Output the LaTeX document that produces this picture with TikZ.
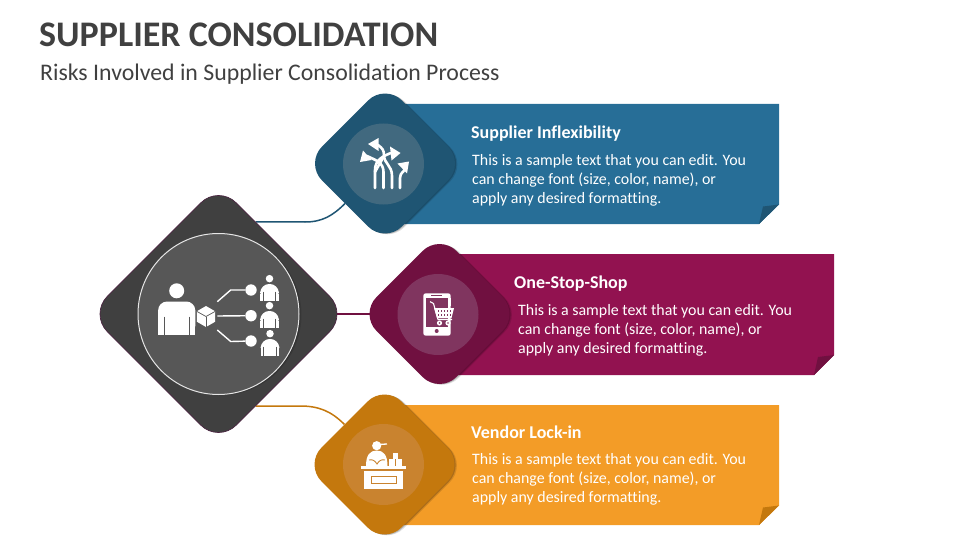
\documentclass[tikz,border=0pt]{standalone}
\usepackage{fontspec}
\setmainfont[Ligatures=NoCommon]{Carlito}
\usetikzlibrary{positioning, shapes.geometric, backgrounds, shadows}
\definecolor{seablue}{HTML}{276E97}
\definecolor{deepblue}{HTML}{1F5573}
\definecolor{hazeblue}{HTML}{41697F}
\definecolor{wine}{HTML}{921250}
\definecolor{plum}{HTML}{701040}
\definecolor{hazeplum}{HTML}{80355F}
\definecolor{amber}{HTML}{F39C27}
\definecolor{ochre}{HTML}{C4780D}
\definecolor{hazeochre}{HTML}{C9832F}
\definecolor{coal}{HTML}{404040}
\definecolor{ash}{HTML}{575757}
\definecolor{hubedge}{HTML}{4A2440}

\tikzset{
  soft shadow/.style={
    general shadow={shadow xshift=1.2pt, shadow yshift=-0.4pt, opacity=.2, fill=black},
    general shadow={shadow xshift=2.4pt, shadow yshift=-0.8pt, opacity=.12, fill=black}
  },
  small diamond/.style={
    diamond,
    aspect=1,
    inner sep=0pt,
    minimum width=160pt,
    minimum height=160pt,
    rounded corners=24pt,
    soft shadow
  },
  icon ring/.style={
    circle,
    inner sep=0pt,
    minimum size=81pt
  },
  link line/.style={
    line width=1.5pt
  },
  heading/.style={
    anchor=west,
    inner sep=0pt,
    text=white,
    font=\fontsize{18}{20}\selectfont\bfseries
  },
  sample/.style={
    anchor=west,
    align=left,
    inner sep=0pt,
    text=white,
    font=\fontsize{15.9}{19}\selectfont
  },
  branch/.style={
    draw=white,
    line width=1.4pt
  },
  dot/.style={
    circle,
    fill=white,
    inner sep=0pt,
    minimum size=11.4pt
  },
  stem/.style={
    draw=white,
    line width=2.6pt,
    line cap=round
  },
  pics/person/.style={
    code={
      \fill[white] (0,-10.7) circle (7.5);
      \fill[white, rounded corners=9pt] (-18.6,33) -- (-18.6,0) -- (18.6,0) -- (18.6,33) -- cycle;
      \fill[white] (-18.6,20) rectangle (18.6,33);
      \draw[ash, line width=.8pt] (-12.5,15) -- (-12.5,33);
      \draw[ash, line width=.8pt] (12.5,15) -- (12.5,33);
    }
  }
}

\begin{document}
\begin{tikzpicture}[x=1pt, y=-1pt]
\useasboundingbox (0,0) rectangle (960,540);

\node(title)[anchor=base west, inner sep=0pt, text=coal, font=\fontsize{36}{40}\selectfont\bfseries] at (39,47) {SUPPLIER CONSOLIDATION};
\node(subtitle)[anchor=base west, inner sep=0pt, text=coal, font=\fontsize{23.8}{26}\selectfont] at (40,80.5) {Risks Involved in Supplier Consolidation Process};

% banners
\fill[seablue] (385,104) -- (779,104) -- (779,204.5) -- (759,224) -- (385,224) -- cycle;
\fill[wine] (440,254) -- (834,254) -- (834,355) -- (814,375) -- (440,375) -- cycle;
\fill[amber] (385,405) -- (779,405) -- (779,505.5) -- (759,525) -- (385,525) -- cycle;

\fill[deepblue] (759,224) -- (763,206.5) -- (779,204.5) -- cycle;
\fill[plum] (814,375) -- (818,357) -- (834,355) -- cycle;
\fill[ochre] (759,525) -- (763,507.5) -- (779,505.5) -- cycle;

% diamonds
\node(hub)[diamond, aspect=1, inner sep=0pt, minimum width=258pt, minimum height=258pt, rounded corners=25pt, fill=coal, draw=hubedge, line width=.7pt] at (218.5,314) {};
\node(dia1)[small diamond, fill=deepblue] at (385,163.5) {};
\node(dia2)[small diamond, fill=plum] at (439.5,314) {};
\node(dia3)[small diamond, fill=ochre] at (384.5,464.5) {};

\node(hubring)[circle, inner sep=0pt, minimum size=161pt, fill=ash, draw=white!85!ash, line width=1pt, soft shadow] at (218.5,314) {};
\node(ring1)[icon ring, fill=hazeblue] at (383.5,164) {};
\node(ring2)[icon ring, fill=hazeplum] at (438,314.5) {};
\node(ring3)[icon ring, fill=hazeochre] at (383.5,464.5) {};

% links
\coordinate (bend1) at (305,222);
\coordinate (bend3) at (300,406);
\begin{scope}[on background layer]
\draw[link line, draw=deepblue] (hub.68) -- (bend1) to[out=0, in=225] (dia1.south west);
\draw[link line, draw=plum] (hub.center) -- (dia2.center);
\draw[link line, draw=ochre] (hub.-68) -- (bend3) to[out=0, in=135] (dia3.north west);
\end{scope}

% hub icon
\pic (bigman) at (176.7,301.5) {person};
\pic (man1) [scale=.5] at (269.5,284) {person};
\pic (man2) [scale=.5] at (269.5,311) {person};
\pic (man3) [scale=.5] at (270,339) {person};

\node(cube)[regular polygon, regular polygon sides=6, shape border rotate=30, fill=white, inner sep=0pt, minimum size=21pt] at (206,316.5) {};
\draw[ash, line width=.7pt] (206,316.5) -- (197,311.5);
\draw[ash, line width=.7pt] (206,316.5) -- (215,311.5);
\draw[ash, line width=.7pt] (206,316.5) -- (206,327);

\node(dot1)[dot] at (251,290) {};
\node(dot2)[dot] at (251,315.7) {};
\node(dot3)[dot] at (251,341) {};

\coordinate (from1) at (217.3,301.7);
\coordinate (from2) at (217.3,316);
\coordinate (from3) at (217.3,330);
\coordinate (knee1) at (230.7,290);
\coordinate (knee3) at (230.7,341.5);

\draw[branch] (from1) -- (knee1) -- (dot1);
\draw[branch] (from2) -- (dot2);
\draw[branch] (from3) -- (knee3) -- (dot3);

% route icon
\draw[stem] (375,188) -- (375,170) .. controls (375,160) and (383,156) .. (391,153);
\draw[stem] (392,188) -- (392,176) .. controls (392,165) and (384,164) .. (384,155) .. controls (384,150) and (382,148) .. (378,145);
\draw[stem] (383.5,188) -- (383.5,172) .. controls (383.5,162) and (375,160) .. (367,156);
\draw[stem] (400,188) -- (400,178) .. controls (400,172) and (405,172) .. (405,168);
\draw[stem] (375,172) -- (384,156);
\fill[white] (397.5,163.5) -- (409,161.5) -- (407,173.5) -- cycle;
\fill[white] (390,146.5) -- (400.5,153) -- (391.5,160.5) -- cycle;
\fill[white] (368,144) -- (378.5,138) -- (378.5,151) -- cycle;
\fill[white] (363,150.5) -- (360,162) -- (371.5,160) -- cycle;

% cart icon
\fill[white, rounded corners=2.5pt] (423.3,293.3) rectangle (450.7,335.7);
\fill[hazeplum] (426,298.3) rectangle (448.3,326.7);
\fill[white] (448,298.3) rectangle (450.7,306);
\draw[hazeplum, line width=.8pt] (431,295.7) -- (442,295.7);
\fill[hazeplum] (436.7,331) circle (2);
\draw[white, line width=1.1pt] (430,301.7) -- (433.5,303.5) -- (438,319.5) -- (452,319.5);
\fill[white] (434,308) -- (454,308) -- (451.5,318) -- (437,318) -- cycle;
\foreach \gx in {438.5,441.5,444.5,447.5,450.5} {
  \fill[hazeplum] (\gx-.8,310) rectangle (\gx+.8,312);
  \fill[hazeplum] (\gx-.8,313.5) rectangle (\gx+.8,315.5);
}
\fill[white] (439.5,323) circle (2.6);
\fill[white] (448,323) circle (2.6);
\fill[hazeplum] (439.5,323) circle (.9);
\fill[hazeplum] (448,323) circle (.9);

% vendor icon
\fill[white] (376.7,445.7) circle (4.6);
\draw[white, line width=1.3pt] (378,444.5) -- (387,444);
\fill[white] (366,466) .. controls (366,455) and (370,450.5) .. (376.7,450.5) .. controls (383.5,450.5) and (387.5,455) .. (387.5,466) -- cycle;
\draw[hazeochre, line width=.9pt] (369,460) .. controls (373,459) and (375,461) .. (377,464) .. controls (379,461) and (381,459) .. (385,460);
\fill[white] (392.7,452.7) rectangle (397.7,458.5);
\fill[white] (389.3,459.3) rectangle (395,466);
\fill[white] (396,459.3) rectangle (401.7,466);
\fill[white] (361,466) rectangle (405.7,469.3);
\fill[white] (364,471) rectangle (403.3,489);
\draw[hazeochre, fill=white, line width=1pt] (371,476) rectangle (396.5,483.3);

% texts
\node(head1)[heading] at (471,133.5) {Supplier Inflexibility};
\node(body1)[sample] at (472,180.5) {This is a sample text that you can edit. You\\can change font (size, color, name), or\\apply any desired formatting.};
\node(head2)[heading] at (514,283.5) {One-Stop-Shop};
\node(body2)[sample] at (518,330.5) {This is a sample text that you can edit. You\\can change font (size, color, name), or\\apply any desired formatting.};
\node(head3)[heading] at (471,432.5) {Vendor Lock-in};
\node(body3)[sample] at (472,479.5) {This is a sample text that you can edit. You\\can change font (size, color, name), or\\apply any desired formatting.};

\end{tikzpicture}
\end{document}
